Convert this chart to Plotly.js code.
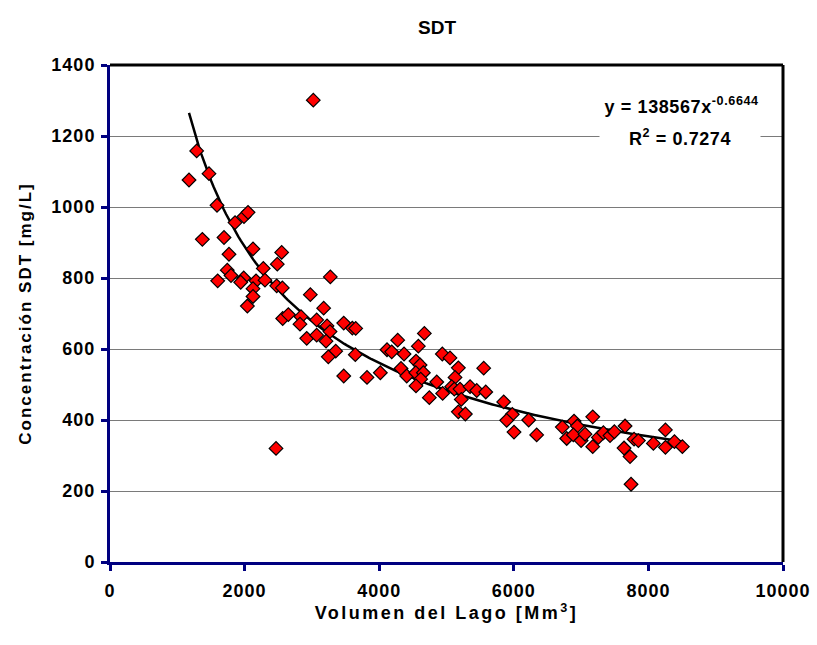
<!DOCTYPE html>
<html><head><meta charset="utf-8">
<script src="https://cdn.plot.ly/plotly-3.0.1.min.js"></script>
<style>
html,body{margin:0;padding:0;background:#fff;}
#chart{width:817px;height:645px;}
#chart .xtitle{letter-spacing:2.5px;}
#chart .ytitle{letter-spacing:2px;}
#chart .xtick text, #chart .ytick text{letter-spacing:1px;}
#chart .annotation-text{letter-spacing:0.6px;}
</style>
</head><body><div id="chart"></div>
<script>
// Lake volume [Mm3]
const volumen = [1174,1288,1471,1590,1372,1694,1858,1991,2051,2125,2551,1768,2486,2278,1743,1798,1987,3274,1600,1942,2170,2303,2477,2561,2125,2125,2977,2041,3021,2467,3175,2566,2650,2838,2823,3071,3225,3269,3473,3601,3651,2923,3071,3210,3354,3244,3645,3473,3819,4017,4116,4186,4275,4369,4324,4409,4671,4582,4547,4607,4938,5052,5176,5553,4543,4656,4617,4547,4855,5127,5077,5116,5201,4943,5350,5449,5583,4745,5220,5176,5280,5850,5978,5894,6221,6003,6340,6721,6786,7173,6895,6944,6885,7000,7059,7173,7257,7331,7430,7494,7653,7638,7727,7787,7851,7742,8074,8253,8253,8387,8505];
// SDT concentration [mg/L]
const sdt = [1076,1158,1094,1005,909,914,956,973,985,882,872,867,839,827,822,807,800,803,792,788,792,794,778,772,770,748,753,721,1301,320,715,686,697,691,670,682,665,649,673,659,658,630,639,622,594,578,584,524,520,533,598,592,625,586,545,524,644,608,566,555,586,575,547,546,533,533,515,496,507,520,494,487,487,475,494,483,479,463,458,423,417,451,416,399,400,366,358,380,348,409,397,383,358,342,360,325,351,364,356,367,383,321,297,346,342,219,334,372,323,339,325];
// Power trend line shown on the chart: y = a * x^b
const trendA = 138567;
const trendB = -0.6644;
const r2Text = "0.7274";
const xTicks = [0,2000,4000,6000,8000,10000];
const yTicks = [0,200,400,600,800,1000,1200,1400];

const xmin = Math.min(...volumen), xmax = Math.max(...volumen);
const tx = [], ty = [];
for (let i = 0; i <= 200; i++) {
  const x = xmin + (xmax - xmin) * i / 200;
  tx.push(x); ty.push(trendA * Math.pow(x, trendB));
}

const font = {family: 'Liberation Sans, Arial, sans-serif', color: '#000', weight: 'bold'};
const data = [
  {x: tx, y: ty, mode: 'lines', line: {color: '#000', width: 2.5}, hoverinfo: 'skip', showlegend: false},
  {x: volumen, y: sdt, mode: 'markers', showlegend: false,
   marker: {symbol: 'diamond', size: 10.5, color: '#FF0000', line: {color: '#000', width: 1.2}}}
];
const layout = {
  width: 817, height: 645,
  margin: {l: 110, r: 34, t: 65, b: 83},
  paper_bgcolor: '#fff', plot_bgcolor: '#fff',
  title: {text: '<b>SDT</b>', x: 0.535, xanchor: 'center', y: 0.958, yanchor: 'middle',
          font: Object.assign({}, font, {size: 19})},
  xaxis: {range: [0, 10000], tickvals: xTicks, ticktext: xTicks.map(v => '<b>' + v + '</b>'),
          showgrid: false, zeroline: false, showline: true, linecolor: '#000080', linewidth: 3,
          ticks: 'outside', ticklen: 6, tickwidth: 3, tickcolor: '#000080', ticklabelstandoff: 4,
          tickfont: Object.assign({}, font, {size: 18}),
          title: {text: '<b>Volumen del Lago [Mm<sup>3</sup>]</b>', standoff: 0,
                  font: Object.assign({}, font, {size: 18})}},
  yaxis: {range: [0, 1400], tickvals: yTicks, ticktext: yTicks.map(v => '<b>' + v + '</b>'),
          showgrid: true, gridcolor: '#7a7a7a', gridwidth: 1, zeroline: false,
          showline: true, linecolor: '#000080', linewidth: 3,
          ticks: 'outside', ticklen: 6, tickwidth: 3, tickcolor: '#000080', ticklabelstandoff: 2,
          tickfont: Object.assign({}, font, {size: 18}),
          title: {text: '<b>Concentración SDT [mg/L]</b>', standoff: 20,
                  font: Object.assign({}, font, {size: 17})}},
  shapes: [
    {type: 'line', xref: 'paper', yref: 'paper', x0: 0, x1: 1, y0: 1, y1: 1, line: {color: '#000', width: 3}},
    {type: 'line', xref: 'paper', yref: 'paper', x0: 1, x1: 1, y0: 0, y1: 1, line: {color: '#000', width: 3}}
  ],
  annotations: [
    {xref: 'x', yref: 'y', x: 8485, y: 1285, xanchor: 'center', yanchor: 'middle', showarrow: false,
     text: '<b>y = 138567x<sup>-0.6644</sup></b>', font: Object.assign({}, font, {size: 18})},
    {xref: 'x', yref: 'y', x: 8470, y: 1197, xanchor: 'center', yanchor: 'middle', showarrow: false,
     text: '<b>R<sup>2</sup> = ' + r2Text + '</b>', font: Object.assign({}, font, {size: 18}),
     bgcolor: '#fff', width: 158, borderpad: 1}
  ]
};
Plotly.newPlot('chart', data, layout, {displayModeBar: false, staticPlot: true});
</script></body></html>
